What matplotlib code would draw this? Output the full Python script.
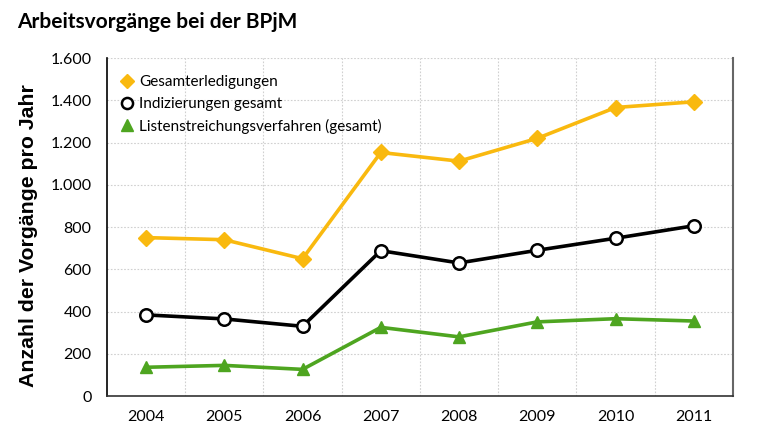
import matplotlib
matplotlib.use("Agg")
import matplotlib.pyplot as plt
from matplotlib.lines import Line2D
from matplotlib.ticker import FuncFormatter, MultipleLocator

years = ["2004", "2005", "2006", "2007", "2008", "2009", "2010", "2011"]
gesamterledigungen = [750, 740, 650, 1153, 1112, 1220, 1366, 1393]
indizierungen = [384, 365, 330, 688, 630, 690, 747, 806]
listenstreichung = [136, 145, 126, 325, 280, 351, 366, 355]
series_labels = ["Gesamterledigungen", "Indizierungen gesamt",
                 "Listenstreichungsverfahren (gesamt)"]

plt.rcParams['font.family'] = ['Lato', 'DejaVu Sans']

fig = plt.figure(figsize=(7.58, 4.40), dpi=100)
ax = fig.add_axes([0.141, 0.1, 0.826, 0.768])

x = list(range(len(years)))
gold = "#F9B90F"
green = "#4EA520"

ax.plot(x, gesamterledigungen, color=gold, lw=2.6, marker="D", ms=8,
        mfc=gold, mec=gold, zorder=3)
ax.plot(x, indizierungen, color="black", lw=2.6, marker="o", ms=9,
        mfc="white", mec="black", mew=1.8, zorder=3)
ax.plot(x, listenstreichung, color=green, lw=2.6, marker="^", ms=9,
        mfc=green, mec=green, zorder=3)

ax.set_xlim(-0.5, len(years) - 0.5)
ax.set_ylim(0, 1600)
ax.yaxis.set_major_locator(MultipleLocator(200))
ax.yaxis.set_major_formatter(FuncFormatter(lambda v, p: f"{int(v):,}".replace(",", ".")))
ax.set_xticks(x)
ax.set_xticklabels(years)
ax.set_xticks([i + 0.5 for i in x[:-1]], minor=True)

ax.grid(True, which="major", axis="y", color="#d0d0d0", lw=0.8, ls=(0, (1.5, 1.5)))
ax.grid(True, which="minor", axis="x", color="#d0d0d0", lw=0.8, ls=(0, (1.5, 1.5)))
ax.tick_params(axis="both", which="both", length=0, labelsize=11.5, pad=10)
ax.tick_params(axis="y", pad=11)

ax.spines["top"].set_visible(False)
ax.spines["left"].set_color("black")
ax.spines["left"].set_linewidth(1.2)
ax.spines["bottom"].set_color("#333333")
ax.spines["bottom"].set_linewidth(1.2)
ax.spines["right"].set_color("#666666")
ax.spines["right"].set_linewidth(1.5)

ax.set_ylabel("Anzahl der Vorgänge pro Jahr", family=["Liberation Sans", "DejaVu Sans"],
              fontweight="bold", fontsize=15.3)
ax.yaxis.set_label_coords(-0.11, 0.475)

fig.text(0.022, 0.95, "Arbeitsvorgänge bei der BPjM", fontsize=15,
         fontweight="bold", va="center", ha="left")

handles = [
    Line2D([], [], ls="none", marker="D", ms=7, mfc=gold, mec=gold),
    Line2D([], [], ls="none", marker="o", ms=8, mfc="white", mec="black", mew=1.8),
    Line2D([], [], ls="none", marker="^", ms=9, mfc=green, mec=green),
]
ax.legend(handles, series_labels, loc="upper left", frameon=False, fontsize=11,
          handlelength=0.8, handletextpad=0.4, labelspacing=0.5,
          bbox_to_anchor=(0.0, 0.99), borderaxespad=0.5)

fig.savefig("out.png", dpi=100)
